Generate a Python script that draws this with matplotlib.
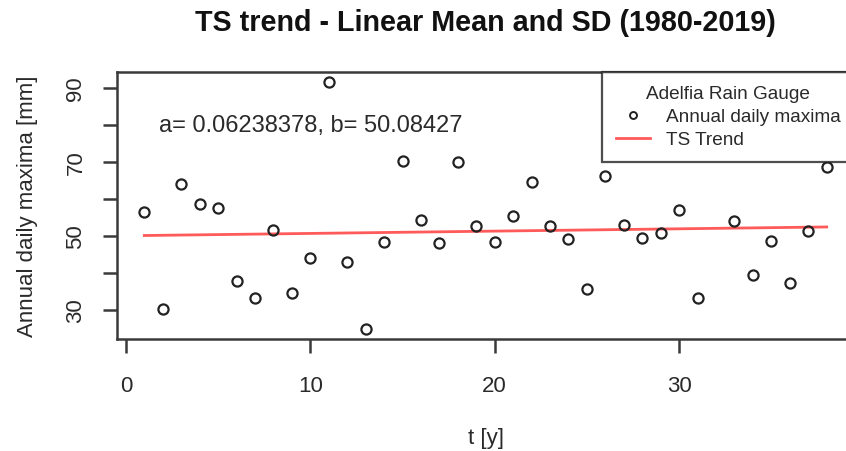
import matplotlib
matplotlib.use("Agg")
import matplotlib.pyplot as plt
from matplotlib.lines import Line2D

plt.rcParams['font.family'] = ['Liberation Sans', 'DejaVu Sans']

# Data
t = [1, 2, 3, 4, 5, 6, 7, 8, 9, 10, 11, 12, 13, 14, 15, 16, 17, 18, 19, 20,
     21, 22, 23, 24, 25, 26, 27, 28, 29, 30, 31, 33, 34, 35, 36, 37, 38]
maxima = [56.4, 30.3, 64.1, 58.6, 57.6, 37.9, 33.2, 51.7, 34.5, 44.1, 91.5, 43.1,
          24.9, 48.5, 70.4, 54.4, 48.0, 69.9, 52.6, 48.4, 55.3, 64.5, 52.6, 49.1,
          35.7, 66.1, 53.0, 49.4, 50.7, 57.1, 33.3, 54.1, 39.5, 48.7, 37.2, 51.4, 68.7]
a_coef = 0.06238378
b_coef = 50.08427
trend_t = list(range(1, 39))
trend = [a_coef * v + b_coef for v in trend_t]
xticks = [0, 10, 20, 30]
yticks = [30, 40, 50, 60, 70, 80, 90]
ylabels = ['30', '', '50', '', '70', '', '90']

W, H = 846, 452
fig = plt.figure(figsize=(W / 100, H / 100), dpi=100)
ax = fig.add_axes([117 / W, (H - 340) / H, 737 / W, 267 / H])

edge = '#3a3a3a'
txt = '#2a2a2a'

ax.plot(trend_t, trend, color='#ff5a5a', lw=2.0, zorder=2)
ax.plot(t, maxima, linestyle='none', marker='o', markersize=7.3, mfc='none',
        mec='#222222', mew=1.6, zorder=3)

ax.set_xlim(-0.48, 39.48)
ax.set_ylim(22.2, 94.3)
ax.set_xticks(xticks)
ax.set_xticklabels([str(v) for v in xticks])
ax.set_yticks(yticks)
ax.set_yticklabels(ylabels, rotation=90, va='center')

for s in ax.spines.values():
    s.set_color(edge)
    s.set_linewidth(1.8)
ax.tick_params(axis='both', length=10, width=1.8, color=edge, labelcolor=txt,
               labelsize=16)
ax.tick_params(axis='x', pad=16)
ax.tick_params(axis='y', pad=12)

ax.set_xlabel('t [y]', fontsize=16, color=txt, labelpad=22)
ax.set_ylabel('Annual daily maxima [mm]', fontsize=16, color=txt, labelpad=20)

ax.text(10, 80, 'a= 0.06238378, b= 50.08427', fontsize=17, color=txt,
        ha='center', va='center')

fig.text(485 / W, 1 - 23 / H, 'TS trend - Linear Mean and SD (1980-2019)',
         fontsize=20.7, fontweight='bold', ha='center', va='center', color='#111111')

handles = [Line2D([], [], linestyle='none', marker='o', markersize=5, mfc='none',
                  mec='#222222', mew=1.4),
           Line2D([], [], color='#ff5a5a', lw=2.0)]
leg = ax.legend(handles, ['Annual daily maxima', 'TS Trend'], title='Adelfia Rain Gauge',
                loc='upper right', bbox_to_anchor=(1.0, 1.0), borderaxespad=0,
                fontsize=13.7, title_fontsize=13.7, frameon=True, fancybox=False,
                labelspacing=0.3, handlelength=1.8, handletextpad=0.85,
                borderpad=0.7, labelcolor=txt)
leg.get_frame().set_edgecolor('#222222')
leg.get_frame().set_linewidth(1.6)
leg.get_title().set_color(txt)

fig.savefig('out.png', dpi=100)
